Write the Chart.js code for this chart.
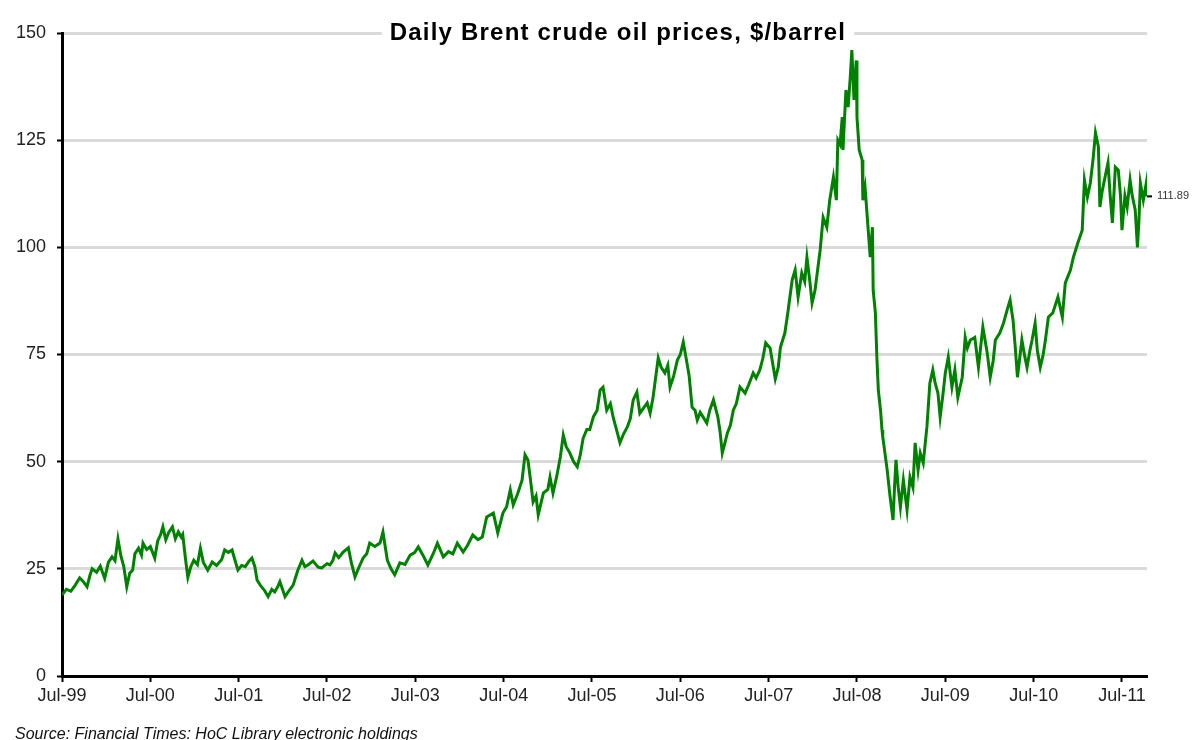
<!DOCTYPE html>
<html>
<head>
<meta charset="utf-8">
<script src="https://cdn.jsdelivr.net/npm/chart.js@4/dist/chart.umd.min.js"></script>
<style>
  html, body { margin: 0; padding: 0; background: #fff; }
  #wrap { width: 1196px; height: 740px; }
</style>
</head>
<body>
<div id="wrap"><canvas id="oil" width="1196" height="740"></canvas></div>
<script>
// months since Jul-1999
const monthIndex = [
  0.0, 0.6, 1.2, 1.8, 2.4, 2.9, 3.4, 3.8, 4.1, 4.7, 5.2, 5.8, 6.3, 6.8, 7.2, 7.6, 8.0, 8.4, 8.8, 9.2,
  9.6, 9.9, 10.4, 10.8, 11.0, 11.5, 12.0, 12.6, 13.0, 13.4, 13.7, 14.1, 14.5, 15.0, 15.4, 15.8, 16.2, 16.4, 16.8, 17.1,
  17.5, 17.9, 18.4, 18.8, 19.2, 19.8, 20.4, 21.0, 21.7, 22.1, 22.6, 23.1, 23.5, 23.9, 24.4, 24.9, 25.4, 25.8, 26.2, 26.5,
  27.0, 27.5, 28.0, 28.5, 28.9, 29.3, 29.6, 30.0, 30.3, 30.8, 31.4, 32.0, 32.6, 33.0, 33.4, 34.1, 34.8, 35.3, 36.0, 36.4,
  36.8, 37.1, 37.6, 38.2, 38.9, 39.3, 39.8, 40.3, 40.9, 41.4, 41.8, 42.5, 43.2, 43.6, 44.2, 44.7, 45.2, 45.9, 46.6, 47.3,
  47.9, 48.4, 49.0, 49.7, 50.4, 51.0, 51.8, 52.5, 53.1, 53.7, 54.5, 55.1, 55.8, 56.5, 57.1, 57.7, 58.6, 59.2, 59.9, 60.4,
  60.9, 61.3, 61.9, 62.5, 62.9, 63.3, 63.7, 64.0, 64.4, 64.7, 65.4, 66.0, 66.3, 66.7, 67.2, 67.7, 68.1, 68.5, 69.0, 69.5,
  70.0, 70.4, 70.8, 71.3, 71.7, 72.2, 72.7, 73.1, 73.5, 74.0, 74.5, 74.9, 75.4, 75.8, 76.3, 76.8, 77.2, 77.6, 78.1, 78.5,
  79.0, 79.5, 79.9, 80.3, 80.6, 81.0, 81.4, 81.9, 82.3, 82.6, 83.1, 83.6, 84.0, 84.4, 84.9, 85.2, 85.6, 86.0, 86.3, 86.7,
  87.1, 87.6, 88.0, 88.5, 89.1, 89.4, 89.7, 90.0, 90.4, 90.8, 91.2, 91.6, 92.1, 92.8, 93.3, 93.9, 94.3, 94.8, 95.2, 95.6,
  96.2, 96.9, 97.3, 97.6, 98.2, 98.6, 99.2, 99.6, 100.0, 100.5, 100.9, 101.2, 101.6, 101.9, 102.3, 102.6, 103.0, 103.4, 103.9, 104.3,
  104.8, 105.2, 105.4, 105.7, 106.0, 106.1, 106.5, 106.8, 107.1, 107.3, 107.6, 107.9, 108.0, 108.3, 108.7, 108.8, 109.1, 109.4, 109.8, 110.1,
  110.2, 110.5, 110.7, 110.9, 111.2, 111.4, 111.5, 111.8, 112.1, 112.5, 112.9, 113.1, 113.3, 113.6, 113.9, 114.3, 114.8, 115.2, 115.6, 115.9,
  116.3, 116.6, 117.0, 117.5, 117.9, 118.3, 118.6, 119.0, 119.3, 119.7, 120.0, 120.4, 120.9, 121.3, 121.7, 122.3, 122.7, 123.0, 123.4, 124.0,
  124.5, 125.1, 125.7, 126.1, 126.5, 126.8, 127.4, 127.9, 128.4, 128.8, 129.2, 129.5, 129.8, 130.1, 130.4, 130.8, 131.1, 131.5, 131.8, 132.2,
  132.5, 132.9, 133.3, 133.6, 134.0, 134.6, 135.3, 135.9, 136.3, 137.0, 137.4, 138.0, 138.6, 138.9, 139.3, 139.7, 140.1, 140.4, 140.8, 141.0,
  141.3, 141.7, 142.1, 142.4, 142.7, 143.1, 143.5, 143.8, 144.0, 144.4, 144.7, 145.1, 145.4, 145.8, 146.1, 146.3, 146.5, 146.9, 147.1, 147.3,
  147.4
];

// Brent, $/barrel
const prices = [
  18.9, 20.2, 19.8, 21.2, 22.9, 22.0, 20.8, 23.5, 25.0, 24.2, 25.6, 22.8, 26.5, 27.8, 26.9, 32.0, 28.0, 25.5, 20.8, 24.0,
  24.7, 28.5, 29.8, 28.2, 31.0, 29.5, 30.2, 27.5, 31.5, 33.0, 34.8, 31.8, 33.5, 34.8, 32.0, 33.6, 32.4, 33.0, 27.0, 23.0,
  25.5, 27.0, 26.0, 29.8, 26.5, 24.7, 26.6, 25.8, 27.2, 29.4, 28.8, 29.4, 27.0, 24.7, 25.8, 25.5, 26.8, 27.5, 25.5, 22.4,
  21.0, 20.0, 18.5, 20.2, 19.6, 20.8, 22.0, 20.0, 18.5, 19.8, 21.2, 24.5, 27.0, 25.5, 25.9, 26.8, 25.4, 25.2, 26.2, 25.9,
  27.0, 28.7, 27.6, 28.9, 29.9, 26.5, 23.1, 25.2, 27.5, 28.5, 31.0, 30.2, 31.0, 33.6, 27.0, 25.0, 23.6, 26.4, 26.0, 28.2,
  28.8, 30.1, 28.3, 25.9, 28.4, 31.0, 27.8, 29.0, 28.5, 31.0, 28.9, 30.5, 32.9, 31.8, 32.4, 37.1, 38.0, 33.4, 38.0, 39.5,
  43.4, 39.9, 42.5, 45.7, 51.6, 50.4, 45.0, 40.6, 42.0, 37.6, 42.7, 43.5, 46.4, 42.7, 46.5, 51.1, 56.2, 53.5, 52.0, 50.0,
  48.8, 51.5, 55.5, 57.5, 57.5, 60.5, 62.0, 66.7, 67.4, 62.0, 63.5, 60.2, 57.0, 54.4, 56.5, 58.1, 60.0, 64.4, 66.2, 61.3,
  62.5, 63.7, 61.3, 65.0, 69.0, 74.2, 72.0, 70.7, 72.5, 67.4, 70.0, 73.7, 75.0, 77.9, 73.0, 70.0, 62.7, 62.0, 59.7, 61.5,
  60.4, 59.0, 62.0, 64.4, 60.4, 57.0, 52.0, 54.0, 56.7, 58.5, 62.0, 63.5, 67.4, 66.0, 68.0, 70.7, 69.5, 71.4, 74.0, 77.7,
  76.5, 69.3, 72.0, 76.7, 80.0, 84.7, 92.4, 94.7, 88.4, 94.0, 92.0, 97.7, 92.0, 87.0, 90.0, 94.0, 99.4, 107.0, 104.7, 111.0,
  116.4, 111.0, 125.0, 124.0, 130.4, 122.7, 136.7, 132.7, 140.0, 146.0, 134.4, 143.6, 130.4, 122.7, 120.4, 111.0, 114.0, 107.0, 97.7, 104.7,
  90.0, 84.7, 74.4, 66.7, 62.0, 57.4, 55.8, 52.0, 48.1, 41.8, 36.4, 44.0, 50.4, 44.0, 39.4, 45.7, 38.7, 46.4, 44.0, 54.4,
  48.0, 52.0, 49.7, 58.1, 68.3, 71.4, 68.5, 66.0, 60.4, 66.0, 70.7, 74.4, 67.4, 71.4, 65.0, 69.7, 79.0, 76.5, 78.4, 79.0,
  72.0, 81.4, 75.3, 69.7, 73.5, 78.4, 80.0, 82.3, 85.4, 87.7, 83.0, 76.7, 69.7, 74.0, 78.4, 74.5, 72.0, 76.0, 78.5, 82.3,
  76.0, 72.0, 75.0, 78.4, 83.7, 84.7, 88.4, 83.7, 91.7, 94.7, 97.7, 101.0, 104.0, 115.7, 111.7, 115.0, 121.0, 126.7, 123.4, 109.4,
  113.0, 116.4, 119.7, 112.0, 105.7, 118.7, 118.0, 112.0, 104.0, 112.0, 109.4, 115.7, 112.0, 108.7, 100.0, 106.0, 115.0, 111.0, 113.0, 115.0,
  111.89
];

const xTickValues = [0, 12, 24, 36, 48, 60, 72, 84, 96, 108, 120, 132, 144];
const xTickLabels = ["Jul-99", "Jul-00", "Jul-01", "Jul-02", "Jul-03", "Jul-04", "Jul-05",
                     "Jul-06", "Jul-07", "Jul-08", "Jul-09", "Jul-10", "Jul-11"];
const yTickValues = [0, 25, 50, 75, 100, 125, 150];

const titleText = "Daily Brent crude oil prices, $/barrel";
const sourceText = "Source: Financial Times: HoC Library electronic holdings";

const extras = {
  id: "extras",
  beforeDatasetsDraw(chart) {
    const ctx = chart.ctx;
    const cx = 618;
    const ty = chart.scales.y.getPixelForValue(150);
    ctx.save();
    ctx.letterSpacing = "1.2px";
    ctx.font = "bold 24px Arial, 'Liberation Sans', sans-serif";
    const w = ctx.measureText(titleText).width;
    ctx.fillStyle = "#fff";
    ctx.fillRect(cx - w / 2 - 8, ty - 4, w + 16, 8);
    ctx.fillStyle = "#000";
    ctx.textAlign = "center";
    ctx.textBaseline = "alphabetic";
    ctx.fillText(titleText, cx, ty + 7);
    ctx.restore();
  },
  afterDraw(chart) {
    const ctx = chart.ctx;
    const xs = chart.scales.x, ys = chart.scales.y;
    const last = prices.length - 1;
    const px = xs.getPixelForValue(monthIndex[last]);
    const py = ys.getPixelForValue(prices[last]);
    ctx.save();
    ctx.strokeStyle = "#000";
    ctx.lineWidth = 2;
    ctx.beginPath();
    ctx.moveTo(px, py);
    ctx.lineTo(px + 5, py);
    ctx.stroke();
    ctx.fillStyle = "#333";
    ctx.font = "11px Arial, 'Liberation Sans', sans-serif";
    ctx.textBaseline = "middle";
    ctx.fillText(prices[last].toFixed(2), px + 10, py);

    ctx.font = "italic 16px Arial, 'Liberation Sans', sans-serif";
    ctx.fillStyle = "#111";
    ctx.textBaseline = "alphabetic";
    ctx.fillText(sourceText, 15, 739);
    ctx.restore();
  }
};

new Chart(document.getElementById("oil").getContext("2d"), {
  type: "line",
  data: {
    datasets: [{
      data: monthIndex.map((m, i) => ({ x: m, y: prices[i] })),
      borderColor: "#008000",
      borderWidth: 3,
      pointRadius: 0,
      tension: 0,
      fill: false
    }]
  },
  options: {
    responsive: false,
    animation: false,
    devicePixelRatio: 1,
    layout: { padding: { top: 33, right: 49, left: 0, bottom: 0 } },
    plugins: { legend: { display: false }, tooltip: { enabled: false } },
    scales: {
      x: {
        type: "linear",
        min: 0,
        max: 147.4,
        afterBuildTicks: (s) => { s.ticks = xTickValues.map((v) => ({ value: v })); },
        afterFit: (s) => { s.height = 64; },
        ticks: {
          autoSkip: false,
          maxRotation: 0,
          padding: 3,
          color: "#222",
          font: { family: "Arial, 'Liberation Sans', sans-serif", size: 18 },
          callback: (v) => xTickLabels[xTickValues.indexOf(v)]
        },
        grid: { drawOnChartArea: false, tickLength: 6, tickColor: "#000", tickWidth: 2 },
        border: { color: "#000", width: 3 }
      },
      y: {
        min: 0,
        max: 150,
        afterBuildTicks: (s) => { s.ticks = yTickValues.map((v) => ({ value: v })); },
        afterFit: (s) => { s.width = 62; },
        ticks: {
          padding: 11,
          color: "#222",
          font: { family: "Arial, 'Liberation Sans', sans-serif", size: 18 }
        },
        grid: { color: "#dadada", lineWidth: 3, tickLength: 5, tickColor: "#000", tickWidth: 2 },
        border: { color: "#000", width: 3 }
      }
    }
  },
  plugins: [extras]
});
</script>
</body>
</html>
